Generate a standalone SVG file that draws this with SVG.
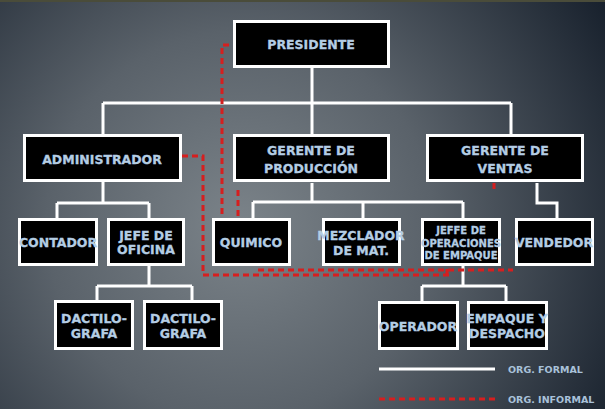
<svg xmlns="http://www.w3.org/2000/svg" width="605" height="409" viewBox="0 0 605 409">
<defs>
<radialGradient id="bg" gradientUnits="userSpaceOnUse" cx="240" cy="225" r="430">
<stop offset="0" stop-color="#7b8389"/>
<stop offset="0.45" stop-color="#5a626a"/>
<stop offset="1" stop-color="#17202c"/>
</radialGradient>
<style>
.box{fill:#000;stroke:#fff;stroke-width:3}
.t{font-family:"DejaVu Sans","Liberation Sans",sans-serif;font-weight:bold;fill:#b4cde4;stroke:#b4cde4;stroke-width:0.3;text-anchor:middle;dominant-baseline:central}
.f{font-size:12.5px}
.s{font-size:10px}
.w{fill:none;stroke:#fff;stroke-width:3}
.r{fill:none;stroke:#d61f1f;stroke-width:3;stroke-dasharray:6 4}
.lg{font-family:"DejaVu Sans","Liberation Sans",sans-serif;font-weight:bold;font-size:9.5px;fill:#a9c2da;dominant-baseline:central}
</style>
</defs>
<rect width="605" height="409" fill="url(#bg)"/>
<rect width="605" height="2" fill="#4a4c3a"/>

<g id="connectors">
<path class="w" d="M312 68V103M103 103H511M103 103V134M312 103V134M511 103V134"/>
<path class="w" d="M103 182V203M57 203H149M57 203V218M149 203V218"/>
<path class="w" d="M312 183V202M253 202H463M253 202V218M363 202V218M463 202V218"/>
<path class="w" d="M537 183V203H557V218"/>
<path class="w" d="M149 266V286M97 286H192M97 286V300M192 286V300"/>
<path class="w" d="M463 266V286M422 286H506M422 286V301M506 286V301"/>
<path class="r" d="M229 45H222V218"/>
<path class="r" d="M238 190V218"/>
<path class="r" d="M182 156H203V275H450"/>
<path class="r" d="M258 270H513"/>
<path class="r" d="M447 275V266"/>
<path class="r" d="M494 183V191"/>
</g>

<g id="presidente"><rect class="box" x="234.5" y="21.5" width="154" height="45"/><text class="t f" x="311" y="44">PRESIDENTE</text></g>
<g id="administrador"><rect class="box" x="24.5" y="135.5" width="156" height="45"/><text class="t f" x="102" y="159" font-size="13">ADMINISTRADOR</text></g>
<g id="gerente-produccion"><rect class="box" x="234.5" y="135.5" width="154" height="45"/><text class="t f" x="311" y="150" font-size="13">GERENTE DE</text><text class="t f" x="311" y="168" font-size="13">PRODUCCIÓN</text></g>
<g id="gerente-ventas"><rect class="box" x="427.5" y="135.5" width="155" height="45"/><text class="t f" x="505" y="150" font-size="13">GERENTE DE</text><text class="t f" x="505" y="168" font-size="13">VENTAS</text></g>

<g id="contador"><rect class="box" x="19.5" y="219.5" width="77" height="45"/><text class="t f" x="58" y="242" font-size="11.5">CONTADOR</text></g>
<g id="jefe-oficina"><rect class="box" x="108.5" y="219.5" width="75" height="45"/><text class="t f" x="146" y="235">JEFE DE</text><text class="t f" x="146" y="249">OFICINA</text></g>
<g id="quimico"><rect class="box" x="213.5" y="219.5" width="76" height="45"/><text class="t f" x="251" y="242">QUIMICO</text></g>
<g id="mezclador"><rect class="box" x="323.5" y="219.5" width="76" height="45"/><text class="t f" x="361" y="235" font-size="11.8">MEZCLADOR</text><text class="t f" x="361" y="250">DE MAT.</text></g>
<g id="jefe-operaciones"><rect class="box" x="422.5" y="219.5" width="77" height="45"/><text class="t s" x="461" y="230">JEFFE DE</text><text class="t s" x="461" y="243">OPERACIONES</text><text class="t s" x="461" y="255">DE EMPAQUE</text></g>
<g id="vendedor"><rect class="box" x="516.5" y="219.5" width="76" height="45"/><text class="t f" x="554" y="242" font-size="11.5">VENDEDOR</text></g>

<g id="dactilografa-1"><rect class="box" x="55.5" y="301.5" width="77" height="47"/><text class="t f" x="94" y="318">DACTILO-</text><text class="t f" x="94" y="333">GRAFA</text></g>
<g id="dactilografa-2"><rect class="box" x="144.5" y="301.5" width="77" height="47"/><text class="t f" x="183" y="318">DACTILO-</text><text class="t f" x="183" y="333">GRAFA</text></g>
<g id="operador"><rect class="box" x="379.5" y="302.5" width="78" height="46"/><text class="t f" x="418" y="326" font-size="11.5">OPERADOR</text></g>
<g id="empaque-despacho"><rect class="box" x="468.5" y="302.5" width="78" height="46"/><text class="t f" x="507" y="318" font-size="12">EMPAQUE Y</text><text class="t f" x="507" y="333" font-size="12">DESPACHO</text></g>

<g id="legend">
<path class="w" d="M379 369H495"/>
<path class="r" d="M379 399H495" stroke-dasharray="3 1"/>
<text class="lg" x="508" y="369">ORG. FORMAL</text>
<text class="lg" x="508" y="399">ORG. INFORMAL</text>
</g>
</svg>
